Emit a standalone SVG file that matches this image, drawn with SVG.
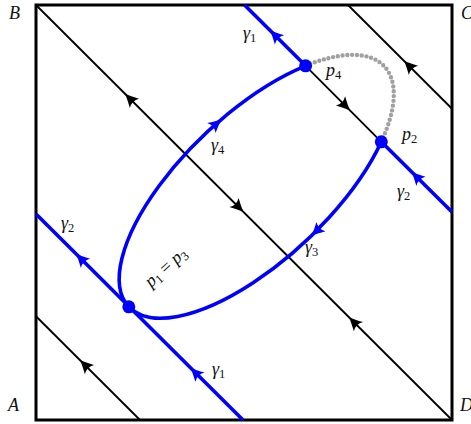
<svg xmlns="http://www.w3.org/2000/svg" xmlns:xlink="http://www.w3.org/1999/xlink" width="471" height="424" viewBox="0 0 471 424">
<style>
.bk{stroke:#000;stroke-width:1.8;fill:none}
.bl{stroke:#0000ff;stroke-width:3.6;fill:none}
.gr{stroke:#a0a0a0;stroke-width:4.4;fill:none;stroke-linecap:round;stroke-dasharray:0 4.8}
.pt{fill:#0000ff}
.m{font-family:"Liberation Serif","DejaVu Serif",serif;font-style:italic;font-size:18px;fill:#111}
.s{font-style:normal;font-size:12.5px}
.r{font-style:normal}
</style>
<defs>
<path id="ah" d="M1.5,0 C-2.5,-1.5 -7,-3.8 -12,-6.5 Q-8,0 -12,6.5 C-7,3.8 -2.5,1.5 1.5,0 Z"/>
</defs>
<rect x="36" y="5" width="416" height="415" fill="#fff" stroke="#000" stroke-width="3"/>
<g id="connectors">
<path class="bk" d="M36,316.25 L140,420"/>
<path class="bk" d="M36,5 L452,420"/>
<path class="bk" d="M348,5 L452,108.75"/>
<path class="bk" d="M305.6,65.8 L381.3,141.8"/>
<path class="bl" d="M36,214 L243,420"/>
<path class="bl" d="M244.5,5 L305.6,65.8"/>
<path class="bl" d="M381.3,141.8 L452,212"/>
<path id="gamma4" class="bl" d="M128.8,306.8 A175.4 73.5 -43.3 0 1 305.6,65.8"/>
<path id="gray" class="gr" d="M305.6,65.8 A175.4 73.5 -43.3 0 1 381.3,141.8"/>
<path id="gamma3" class="bl" d="M381.3,141.8 A175.4 73.5 -43.3 0 1 128.8,306.8"/>
<g fill="#000">
<use xlink:href="#ah" transform="translate(126,94.8) rotate(-135)"/>
<use xlink:href="#ah" transform="translate(242.5,211) rotate(45)"/>
<use xlink:href="#ah" transform="translate(350,318.2) rotate(-135)"/>
<use xlink:href="#ah" transform="translate(349,109.4) rotate(45)"/>
<use xlink:href="#ah" transform="translate(405,61.9) rotate(-135)"/>
<use xlink:href="#ah" transform="translate(81,361.1) rotate(-135)"/>
</g>
<g fill="#0000ff">
<use xlink:href="#ah" transform="translate(77,254.8) rotate(-135)"/>
<use xlink:href="#ah" transform="translate(191.5,368.7) rotate(-135)"/>
<use xlink:href="#ah" transform="translate(271,31.4) rotate(-135)"/>
<use xlink:href="#ah" transform="translate(412.5,172.8) rotate(-135)"/>
<use xlink:href="#ah" transform="translate(220.5,120.2) rotate(-40.6)"/>
<use xlink:href="#ah" transform="translate(312.4,235) rotate(135.7)"/>
</g>
</g>
<g id="p1"><circle class="pt" cx="128.8" cy="306.8" r="6.5"/></g>
<g id="p4"><circle class="pt" cx="305.6" cy="65.8" r="6.5"/></g>
<g id="p2"><circle class="pt" cx="381.3" cy="141.8" r="6.5"/></g>
<g id="labels">
<text class="m" x="9" y="19">B</text>
<text class="m" x="8" y="411">A</text>
<text class="m" x="461" y="19">C</text>
<text class="m" x="460" y="411">D</text>
<text class="m" x="243" y="38.5">γ<tspan class="s" dy="3">1</tspan></text>
<text class="m" x="326" y="76">p<tspan class="s" dy="3">4</tspan></text>
<text class="m" x="402" y="140">p<tspan class="s" dy="3">2</tspan></text>
<text class="m" x="397" y="197">γ<tspan class="s" dy="3">2</tspan></text>
<text class="m" x="211" y="151">γ<tspan class="s" dy="3">4</tspan></text>
<text class="m" x="305" y="253">γ<tspan class="s" dy="3">3</tspan></text>
<text class="m" x="61" y="229">γ<tspan class="s" dy="3">2</tspan></text>
<text class="m" x="212" y="375">γ<tspan class="s" dy="3">1</tspan></text>
<text class="m" transform="translate(151,288) rotate(-42)">p<tspan class="s" dy="3">1</tspan><tspan class="r" dy="-3"> = </tspan>p<tspan class="s" dy="3">3</tspan></text>
</g>
</svg>
